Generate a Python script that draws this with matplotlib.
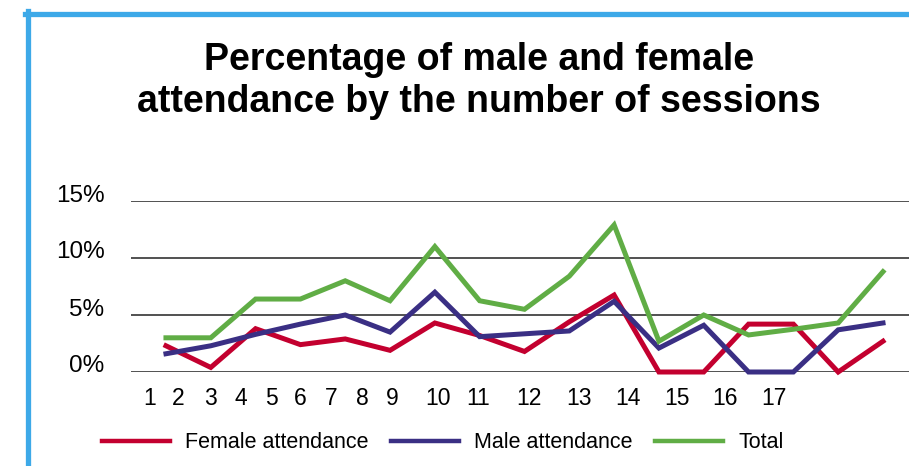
import matplotlib
matplotlib.use("Agg")
import matplotlib.pyplot as plt
import matplotlib.transforms as mtransforms
from matplotlib.lines import Line2D

plt.rcParams['font.family'] = ['Liberation Sans', 'DejaVu Sans']

# data (percent), one value per session slot
sessions = list(range(1, 18))
female = [2.3, 0.4, 3.8, 2.4, 2.9, 1.9, 4.3, 3.2, 1.8, 4.4, 6.75, 0.0, 0.0, 4.2, 4.2, 0.0, 2.7]
male = [1.6, 2.3, 3.3, 4.2, 5.0, 3.5, 7.0, 3.1, 3.35, 3.6, 6.2, 2.1, 4.1, 0.0, 0.0, 3.7, 4.3]
total = [3.0, 3.0, 6.4, 6.4, 8.0, 6.25, 11.0, 6.25, 5.5, 8.4, 12.9, 2.7, 5.0, 3.25, 3.75, 4.3, 8.8]

xtick_labels = [str(i) for i in range(1, 18)]
xtick_pos = [0.64, 1.27, 2.0, 2.68, 3.35, 3.99, 4.69, 5.38, 6.05, 7.06,
             7.97, 9.11, 10.21, 11.3, 12.4, 13.47, 14.56]
yticks = [0, 5, 10, 15]
ytick_labels = ["0%", "5%", "10%", "15%"]

RED = "#C3002F"
BLUE = "#3A2F84"
GREEN = "#60AD45"

fig = plt.figure(figsize=(9.09, 4.66), dpi=100)
ax = fig.add_axes([131 / 909, 94 / 466, 778 / 909, 171 / 466])

ax.plot(sessions, female, color=RED, lw=3.6, label="Female attendance", clip_on=False,
        solid_joinstyle='miter')
ax.plot(sessions, male, color=BLUE, lw=3.6, label="Male attendance", clip_on=False,
        solid_joinstyle='miter')
ax.plot(sessions, total, color=GREEN, lw=3.6, label="Total", clip_on=False,
        solid_joinstyle='miter')

ax.set_xlim(0.22, 17.58)
ax.set_ylim(0, 15)
for y in yticks:
    ax.axhline(y, color="#222222", lw=1.1, zorder=0)

for s in ax.spines.values():
    s.set_visible(False)

ax.set_yticks(yticks)
ax.set_yticklabels(ytick_labels)
ax.set_xticks(xtick_pos)
ax.set_xticklabels(xtick_labels)
ax.tick_params(axis='y', length=0, pad=19, labelsize=17.5)
ax.tick_params(axis='x', length=0, pad=11, labelsize=16.5)

# y labels sit a little above their gridlines
offset = mtransforms.ScaledTranslation(0, 8 / 100, fig.dpi_scale_trans)
for lab in ax.get_yticklabels():
    lab.set_transform(lab.get_transform() + offset)

fig.text(0.527, 0.826, "Percentage of male and female\nattendance by the number of sessions",
         ha='center', va='center', fontsize=27, fontweight='bold', linespacing=1.2)

leg = fig.legend(loc='center', bbox_to_anchor=(0.487, 0.05), ncol=3, frameon=False,
                 fontsize=15.5, handlelength=3.2, handletextpad=0.7, columnspacing=1.0)
for h in leg.get_lines():
    h.set_linewidth(3.2)

# blue frame on top and left
fig.add_artist(Line2D([27.5 / 909, 27.5 / 909], [0, 1 - 11 / 466], color="#3DA9E8", lw=3.8,
                      transform=fig.transFigure))
fig.add_artist(Line2D([25 / 909, 1], [1 - 13.5 / 466, 1 - 13.5 / 466], color="#3DA9E8", lw=3.8,
                      transform=fig.transFigure))

fig.savefig("out.png", dpi=100)
